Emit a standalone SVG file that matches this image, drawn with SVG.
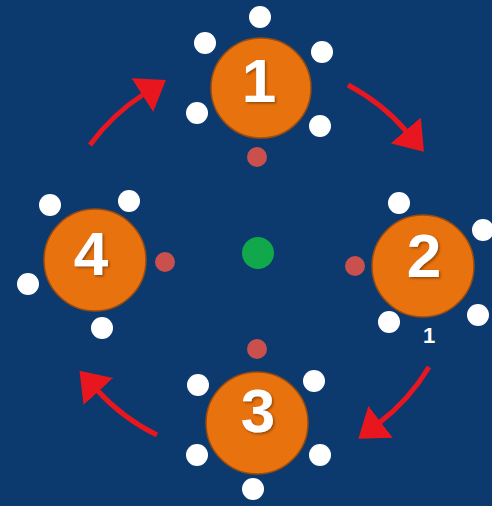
<svg xmlns="http://www.w3.org/2000/svg" width="492" height="506" viewBox="0 0 492 506">
<style>
.node{fill:#e8720e;stroke:#9a4c10;stroke-width:1.5}
.w{fill:#ffffff}
.r{fill:#c9504c}
.num{font-family:"Liberation Sans",Arial,sans-serif;font-weight:bold;font-size:62px;fill:#ffffff;text-anchor:middle;filter:url(#sh)}
.lbl{font-family:"Liberation Sans",Arial,sans-serif;font-weight:bold;font-size:22px;fill:#ffffff;text-anchor:middle}
.arc{fill:none;stroke:#e8161e;stroke-width:5;marker-end:url(#ah)}
</style>
<defs>
<marker id="ah" markerUnits="userSpaceOnUse" viewBox="0 0 28 40" refX="2" refY="20" markerWidth="28" markerHeight="40" orient="auto">
<path d="M0,0 L28,20 L0,40 Z" fill="#e8161e"/>
</marker>
<filter id="sh" x="-20%" y="-20%" width="140%" height="140%">
<feDropShadow dx="1.5" dy="1.5" stdDeviation="1" flood-color="#5a2a00" flood-opacity="0.6"/>
</filter>
</defs>
<rect width="492" height="506" fill="#0d3a6e"/>
<g id="connectors">
<path class="arc" d="M90,145 A200,200 0 0 1 144,94"/>
<path class="arc" d="M348,85 A200,200 0 0 1 407,132"/>
<path class="arc" d="M429,367 A200,200 0 0 1 379,423"/>
<path class="arc" d="M157,435 A200,200 0 0 1 97,390"/>
</g>
<g id="center"><circle cx="258" cy="253" r="16" fill="#10a84a"/></g>
<g id="node1">
<circle class="node" cx="261" cy="88" r="50"/>
<circle class="w" cx="260" cy="17" r="11"/>
<circle class="w" cx="205" cy="43" r="11"/>
<circle class="w" cx="322" cy="52" r="11"/>
<circle class="w" cx="197" cy="113" r="11"/>
<circle class="w" cx="320" cy="126" r="11"/>
<circle class="r" cx="257" cy="157" r="10"/>
<text class="num" x="259" y="102">1</text>
</g>
<g id="node2">
<circle class="node" cx="423" cy="266" r="51"/>
<circle class="w" cx="399" cy="203" r="11"/>
<circle class="w" cx="483" cy="230" r="11"/>
<circle class="w" cx="478" cy="315" r="11"/>
<circle class="w" cx="389" cy="322" r="11"/>
<circle class="r" cx="355" cy="266" r="10"/>
<text class="num" x="424" y="277">2</text>
<text class="lbl" x="429" y="343">1</text>
</g>
<g id="node3">
<circle class="node" cx="257" cy="423" r="51"/>
<circle class="r" cx="257" cy="349" r="10"/>
<circle class="w" cx="198" cy="385" r="11"/>
<circle class="w" cx="314" cy="381" r="11"/>
<circle class="w" cx="197" cy="455" r="11"/>
<circle class="w" cx="320" cy="455" r="11"/>
<circle class="w" cx="253" cy="489" r="11"/>
<text class="num" x="258" y="432">3</text>
</g>
<g id="node4">
<circle class="node" cx="95" cy="260" r="51"/>
<circle class="w" cx="50" cy="205" r="11"/>
<circle class="w" cx="129" cy="201" r="11"/>
<circle class="w" cx="28" cy="284" r="11"/>
<circle class="w" cx="102" cy="328" r="11"/>
<circle class="r" cx="165" cy="262" r="10"/>
<text class="num" x="91" y="275">4</text>
</g>
</svg>
